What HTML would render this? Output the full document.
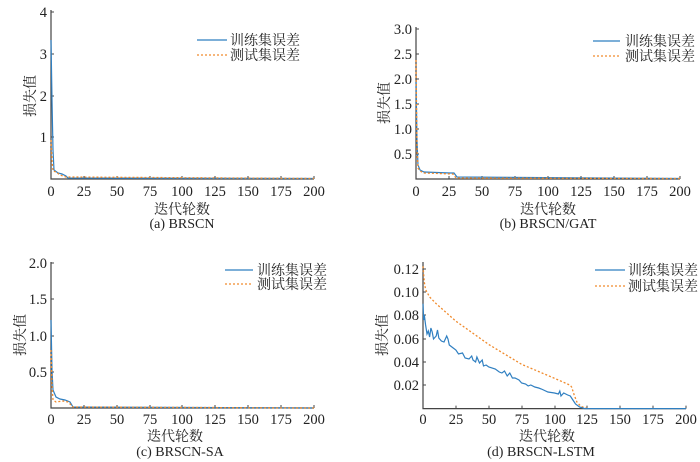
<!DOCTYPE html>
<html><head><meta charset="utf-8"><style>
html,body{margin:0;padding:0;background:#fff}
svg{display:block}
text{font-family:"Liberation Serif","Noto Serif CJK SC",serif;fill:#222}
.t{font-size:14.5px}
.l{font-size:14px}
.ax{stroke:#444;stroke-width:1.2;fill:none}
.tk{stroke:#444;stroke-width:1}
.b{stroke:#2f7fc1;stroke-width:1.2;fill:none}
.o{stroke:#f08a2c;stroke-width:1.3;fill:none;stroke-dasharray:2 2}
</style></head><body>
<svg width="700" height="462" viewBox="0 0 700 462">
<!-- Panel a -->
<g>
<path class="ax" d="M51,10 V179 H314"/>
<g class="tk"><path d="M51,137h3M51,96h3M51,54h3M51,12h3"/>
<path d="M84,179v-3M117,179v-3M150,179v-3M182,179v-3M215,179v-3M248,179v-3M281,179v-3M314,179v-3"/></g>
<g class="t" text-anchor="end"><text x="47" y="142">1</text><text x="47" y="101">2</text><text x="47" y="59">3</text><text x="47" y="17">4</text></g>
<g class="t" text-anchor="middle"><text x="51" y="196">0</text><text x="84" y="196">25</text><text x="117" y="196">50</text><text x="150" y="196">75</text><text x="182" y="196">100</text><text x="215" y="196">125</text><text x="248" y="196">150</text><text x="281" y="196">175</text><text x="314" y="196">200</text></g>
<text class="l" x="182" y="214" text-anchor="middle">迭代轮数</text>
<text class="l" x="182" y="228" text-anchor="middle">(a)  BRSCN</text>
<text class="l" transform="translate(35,96) rotate(-90)" text-anchor="middle">损失值</text>
<path class="b" d="M51,40 L52,100 L53,150 L54,170 L58,173 L62,174 L66,176 L68,178 L314,178.5"/>
<path class="o" d="M51,140 L52,160 L53,171 L56,172 L60,175 L66,177 L314,178.5"/>
<path class="b" d="M197,40h30"/><path class="o" d="M197,55h30"/>
<text class="l" x="230" y="45">训练集误差</text><text class="l" x="230" y="60">测试集误差</text>
</g>
<!-- Panel b -->
<g>
<path class="ax" d="M416,27 V179 H680"/>
<g class="tk"><path d="M416,154h3M416,129h3M416,104h3M416,79h3M416,54h3M416,29h3"/>
<path d="M449,179v-3M482,179v-3M515,179v-3M548,179v-3M581,179v-3M614,179v-3M647,179v-3M680,179v-3"/></g>
<g class="t" text-anchor="end"><text x="412" y="159">0.5</text><text x="412" y="134">1.0</text><text x="412" y="109">1.5</text><text x="412" y="84">2.0</text><text x="412" y="59">2.5</text><text x="412" y="34">3.0</text></g>
<g class="t" text-anchor="middle"><text x="416" y="196">0</text><text x="449" y="196">25</text><text x="482" y="196">50</text><text x="515" y="196">75</text><text x="548" y="196">100</text><text x="581" y="196">125</text><text x="614" y="196">150</text><text x="647" y="196">175</text><text x="680" y="196">200</text></g>
<text class="l" x="548" y="214" text-anchor="middle">迭代轮数</text>
<text class="l" x="548" y="228" text-anchor="middle">(b)  BRSCN/GAT</text>
<text class="l" transform="translate(389,103) rotate(-90)" text-anchor="middle">损失值</text>
<path class="b" d="M416,80 L417,140 L418,165 L420,170 L424,172 L450,173 L454,173 L457,177 L680,178.5"/>
<path class="o" d="M416,60 L417,150 L418,168 L420,171 L424,173 L453,174 L456,178 L680,178.5"/>
<path class="b" d="M593,41h27"/><path class="o" d="M593,56h27"/>
<text class="l" x="625" y="46">训练集误差</text><text class="l" x="625" y="61">测试集误差</text>
</g>
<!-- Panel c -->
<g>
<path class="ax" d="M51,262 V408 H314"/>
<g class="tk"><path d="M51,372h3M51,336h3M51,299h3M51,263h3"/>
<path d="M84,408v-3M117,408v-3M150,408v-3M182,408v-3M215,408v-3M248,408v-3M281,408v-3M314,408v-3"/></g>
<g class="t" text-anchor="end"><text x="47" y="377">0.5</text><text x="47" y="341">1.0</text><text x="47" y="304">1.5</text><text x="47" y="268">2.0</text></g>
<g class="t" text-anchor="middle"><text x="51" y="424">0</text><text x="84" y="424">25</text><text x="117" y="424">50</text><text x="150" y="424">75</text><text x="182" y="424">100</text><text x="215" y="424">125</text><text x="248" y="424">150</text><text x="281" y="424">175</text><text x="314" y="424">200</text></g>
<text class="l" x="175" y="441" text-anchor="middle">迭代轮数</text>
<text class="l" x="180" y="456" text-anchor="middle">(c)  BRSCN-SA</text>
<text class="l" transform="translate(25,335) rotate(-90)" text-anchor="middle">损失值</text>
<path class="b" d="M51,320 L52,370 L53,390 L56,397 L60,399 L65,400 L70,402 L73,407 L314,408"/>
<path class="o" d="M51,350 L52,385 L53,400 L56,402 L63,401 L68,402 L73,407 L314,408"/>
<path class="b" d="M225,270h28"/><path class="o" d="M225,284h28"/>
<text class="l" x="257" y="275">训练集误差</text><text class="l" x="257" y="289">测试集误差</text>
</g>
<!-- Panel d -->
<g>
<path class="ax" d="M423,262 V408.6 H686"/>
<g class="tk"><path d="M423,385h3M423,362h3M423,339h3M423,315h3M423,292h3M423,269h3"/>
<path d="M456,408.6v-3M489,408.6v-3M522,408.6v-3M555,408.6v-3M587,408.6v-3M620,408.6v-3M653,408.6v-3M686,408.6v-3"/></g>
<g class="t" text-anchor="end"><text x="419" y="390">0.02</text><text x="419" y="367">0.04</text><text x="419" y="344">0.06</text><text x="419" y="320">0.08</text><text x="419" y="297">0.10</text><text x="419" y="274">0.12</text></g>
<g class="t" text-anchor="middle"><text x="423" y="424">0</text><text x="456" y="424">25</text><text x="489" y="424">50</text><text x="522" y="424">75</text><text x="555" y="424">100</text><text x="587" y="424">125</text><text x="620" y="424">150</text><text x="653" y="424">175</text><text x="686" y="424">200</text></g>
<text class="l" x="547" y="441" text-anchor="middle">迭代轮数</text>
<text class="l" x="541" y="456" text-anchor="middle">(d)  BRSCN-LSTM</text>
<text class="l" transform="translate(387,335) rotate(-90)" text-anchor="middle">损失值</text>
<path class="o" d="M423,266.3 L424.3,282 L425.6,289.7 L429.6,297 L436.2,303.7 L455.9,321.2 L488.8,344.5 L521.6,364.3 L554.5,378.3 L567.7,384.1 L570.3,385.3 L571.6,387 L574.2,395 L576.9,402 L580.8,406.3 L587.4,408.6 L686,408.6"/>
<path class="b" d="M423,303.7 L423.7,320 L424.3,315 L425.6,325 L427,334 L428.3,331 L429.6,337 L430.9,328 L432.2,332 L433.5,339 L436.2,336 L437.5,330 L438.8,338 L441.4,341 L444,342 L446.7,336 L448,339 L449.3,345 L453.2,348 L455.9,350 L458.5,354 L462.5,353 L465.1,358 L469,359 L471.7,356 L473,360 L475.6,362 L476.9,357 L479.5,363 L482.2,360 L483.5,366 L486.1,365 L488.8,367 L495.3,369 L499.3,372 L501.9,373 L504.5,371 L507.2,376 L509.8,373 L512.4,378 L515,378 L519,380 L521.6,383 L525.6,384 L528.2,386 L530.8,385 L534.8,387 L538.7,388 L541.4,389 L547.9,392 L554.5,393 L558.4,394 L559.8,391 L561,396 L563.7,393 L567.7,395 L570.3,396 L572.9,400 L575.5,404 L579.5,407 L584.7,408.6 L686,408.6"/>
<path class="b" d="M595,270h30"/><path class="o" d="M595,286h30"/>
<text class="l" x="628" y="275">训练集误差</text><text class="l" x="628" y="291">测试集误差</text>
</g>
</svg>
</body></html>
